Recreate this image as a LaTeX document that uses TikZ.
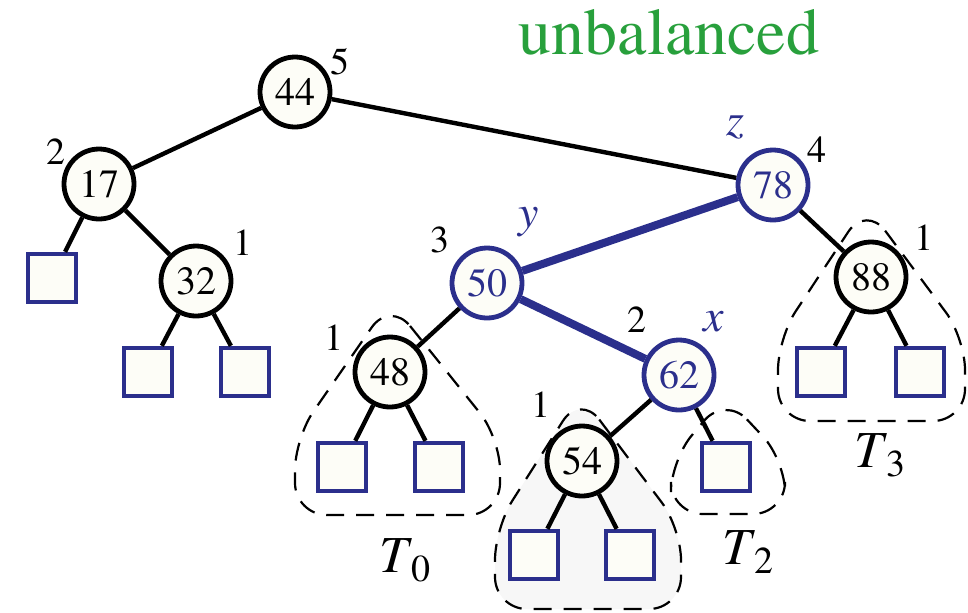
\documentclass[tikz,border=0pt]{standalone}
\usepackage{fontspec}
\setmainfont{texgyretermes}[Extension=.otf, UprightFont=*-regular, ItalicFont=*-italic, BoldFont=*-bold, BoldItalicFont=*-bolditalic]
\usetikzlibrary{positioning}
\definecolor{avlblue}{RGB}{43,47,140}
\definecolor{avlgreen}{RGB}{40,160,60}
\definecolor{nodefill}{RGB}{253,253,247}
\tikzset{
    inner/.style={circle, draw=black, line width=2.4pt, fill=nodefill,
        minimum size=35pt, inner sep=0pt, font=\fontsize{20}{20}\selectfont},
    innerblue/.style={inner, draw=avlblue, text=avlblue},
    leaf/.style={rectangle, draw=avlblue, line width=2.2pt, fill=nodefill,
        minimum size=24pt, inner sep=0pt},
    edge/.style={line width=2.2pt},
    blueedge/.style={line width=4pt, draw=avlblue},
    height/.style={font=\fontsize{19}{19}\selectfont},
    tag/.style={text=avlblue, font=\fontsize{23}{23}\selectfont\itshape},
    subtree/.style={dash pattern=on 9pt off 6pt, line width=1.1pt, rounded corners=16pt},
    treename/.style={font=\fontsize{26}{26}\selectfont}
}
\newcommand{\tname}[1]{\textit{T}\raisebox{-0.4ex}{\fontsize{19}{19}\selectfont #1}}

\begin{document}
\begin{tikzpicture}[x=0.5pt, y=-0.5pt]
    \useasboundingbox (0, 0) rectangle (968, 612);
    % subtrees
    \draw[subtree, fill=black!3] (580, 394) -- (681, 528) -- (681, 609) -- (495, 609) -- (495, 528) -- cycle;
    \draw[subtree] (390, 301) -- (500, 438) -- (500, 515) -- (295, 515) -- (295, 438) -- cycle;
    \draw[subtree] (725, 396) -- (785, 460) -- (785, 514) -- (671, 514) -- (671, 460) -- cycle;
    \draw[subtree] (866, 205) -- (965, 338) -- (965, 421) -- (778, 421) -- (778, 338) -- cycle;
    % internal nodes
    \node[inner] (n44) at (295, 92) {44};
    \node[inner] (n17) at (99, 184) {17};
    \node[inner] (n32) at (196, 281) {32};
    \node[innerblue] (n78) at (773, 185) {78};
    \node[innerblue] (n50) at (487, 283) {50};
    \node[innerblue] (n62) at (679, 375) {62};
    \node[inner] (n48) at (390, 372) {48};
    \node[inner] (n54) at (582, 461) {54};
    \node[inner] (n88) at (871, 277) {88};
    % leaves
    \node[leaf] (l17) at (52, 278) {};
    \node[leaf] (l32a) at (148, 372) {};
    \node[leaf] (l32b) at (245, 372) {};
    \node[leaf] (l48a) at (342, 467) {};
    \node[leaf] (l48b) at (439, 467) {};
    \node[leaf] (l54a) at (534, 555) {};
    \node[leaf] (l54b) at (630, 555) {};
    \node[leaf] (l62) at (726, 467) {};
    \node[leaf] (l88a) at (821, 372) {};
    \node[leaf] (l88b) at (920, 372) {};
    % edges
    \draw[edge] (n44) -- (n17);
    \draw[edge] (n44) -- (n78);
    \draw[edge] (n17) -- (l17);
    \draw[edge] (n17) -- (n32);
    \draw[edge] (n32) -- (l32a);
    \draw[edge] (n32) -- (l32b);
    \draw[blueedge] (n78) -- (n50);
    \draw[blueedge] (n50) -- (n62);
    \draw[edge] (n78) -- (n88);
    \draw[edge] (n50) -- (n48);
    \draw[edge] (n48) -- (l48a);
    \draw[edge] (n48) -- (l48b);
    \draw[edge] (n62) -- (n54);
    \draw[edge] (n62) -- (l62);
    \draw[edge] (n54) -- (l54a);
    \draw[edge] (n54) -- (l54b);
    \draw[edge] (n88) -- (l88a);
    \draw[edge] (n88) -- (l88b);
    % heights
    \node[height] (h44) at (340, 62) {5};
    \node[height] (h17) at (56, 152) {2};
    \node[height] (h32) at (243, 243) {1};
    \node[height] (h78) at (817, 150) {4};
    \node[height] (h50) at (440, 240) {3};
    \node[height] (h62) at (637, 320) {2};
    \node[height] (h48) at (334, 338) {1};
    \node[height] (h54) at (541, 405) {1};
    \node[height] (h88) at (924, 238) {1};
    % x, y, z
    \node[tag] (tz) at (735, 128) {z};
    \node[tag] (ty) at (529, 222) {y};
    \node[tag] (tx) at (714, 322) {x};
    % subtree names
    \node[treename] (t0) at (405, 560) {\tname{0}};
    \node[treename] (t2) at (748, 552) {\tname{2}};
    \node[treename] (t3) at (880, 455) {\tname{3}};
    % title
    \node[text=avlgreen, font=\fontsize{33}{33}\selectfont] (title) at (669, 32) {unbalanced};
\end{tikzpicture}
\end{document}
